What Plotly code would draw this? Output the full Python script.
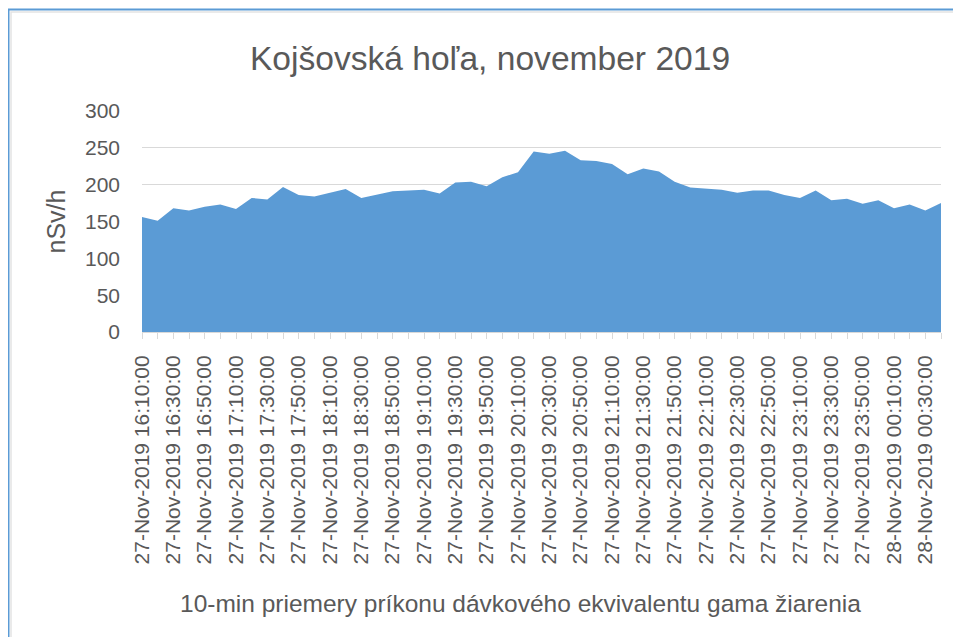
import pandas as pd
import plotly.graph_objects as go

# 10-minute timestamps (categories)
times = pd.date_range("2019-11-27 16:10:00", periods=52, freq="10min")
categories = [t.strftime("%d-%b-%Y %H:%M:%S") for t in times]
tick_labels = [c if i % 2 == 0 else "" for i, c in enumerate(categories)]

# nSv/h values
values = [156, 151, 168, 165, 170, 173, 167, 182, 180, 197,
          186, 184, 189, 194, 182, 187, 191, 192, 193, 188,
          203, 204, 198, 210, 217, 245, 242, 246, 233, 232,
          228, 214, 222, 218, 204, 196, 194, 193, 189, 192,
          192, 186, 182, 192, 179, 181, 174, 179, 168, 173,
          165, 175]

title_text = "Kojšovská hoľa, november 2019"
x_title = "10-min priemery príkonu dávkového ekvivalentu gama žiarenia"
y_title = "nSv/h"
y_ticks = [0, 50, 100, 150, 200, 250, 300]

FONT = "Liberation Sans, Arial, sans-serif"
TXT = "#595959"

fig = go.Figure()
fig.add_trace(go.Scatter(
    x=categories, y=values, mode="lines", fill="tozeroy",
    fillcolor="#5B9BD5", line=dict(color="#5B9BD5", width=0),
    showlegend=False, hoverinfo="x+y",
))

# page has an 8px body margin; figure is sized so it ends at the window edge
W, H = 953, 629
L, R, T = 134, 20, 103
B = H - 324
pw = W - L - R
ph = H - T - B


def px(fx):
    return (fx - L) / pw


def py(fy):
    return (H - B - fy) / ph


fig.update_layout(
    width=W, height=H,
    margin=dict(l=L, r=R, t=T, b=B, pad=0),
    paper_bgcolor="white", plot_bgcolor="white",
    font=dict(family=FONT, color=TXT),
    title=dict(text=title_text, x=482 / W, xanchor="center", xref="container",
               y=1 - 50 / H, yanchor="middle",
               font=dict(size=33.6, color=TXT, family=FONT)),
    xaxis=dict(
        type="category", range=[0, len(categories) - 1],
        tickmode="array", tickvals=categories, ticktext=tick_labels,
        tickangle=-90, tickfont=dict(size=21, color=TXT),
        ticks="outside", ticklen=6, tickcolor="#D9D9D9", tickwidth=1,
        ticklabelstandoff=8,
        showline=True, linecolor="#D9D9D9", linewidth=1,
        showgrid=False, zeroline=False,
    ),
    yaxis=dict(
        range=[0, 300], tickmode="array", tickvals=y_ticks,
        tickfont=dict(size=21, color=TXT),
        showgrid=True, gridcolor="#D9D9D9", gridwidth=1,
        zeroline=False, showline=False, ticks="",
        ticklabelstandoff=21,
        title=dict(text=y_title, font=dict(size=25, color=TXT), standoff=12),
    ),
    annotations=[dict(
        text=x_title, xref="paper", yref="paper",
        x=px(512), y=py(595), xanchor="center", yanchor="middle",
        showarrow=False, font=dict(size=24.5, color=TXT),
    )],
    shapes=[
        dict(type="rect", xref="paper", yref="paper",
             x0=px(3), x1=px(990), y0=py(700), y1=py(4),
             line=dict(color="#E3E3E3", width=1.5), fillcolor="rgba(0,0,0,0)",
             layer="below"),
        dict(type="rect", xref="paper", yref="paper",
             x0=px(0.5), x1=px(990), y0=py(700), y1=py(1.5),
             line=dict(color="#5B9BD5", width=2), fillcolor="rgba(0,0,0,0)",
             layer="below"),
    ],
)

fig.write_html("out.html")
